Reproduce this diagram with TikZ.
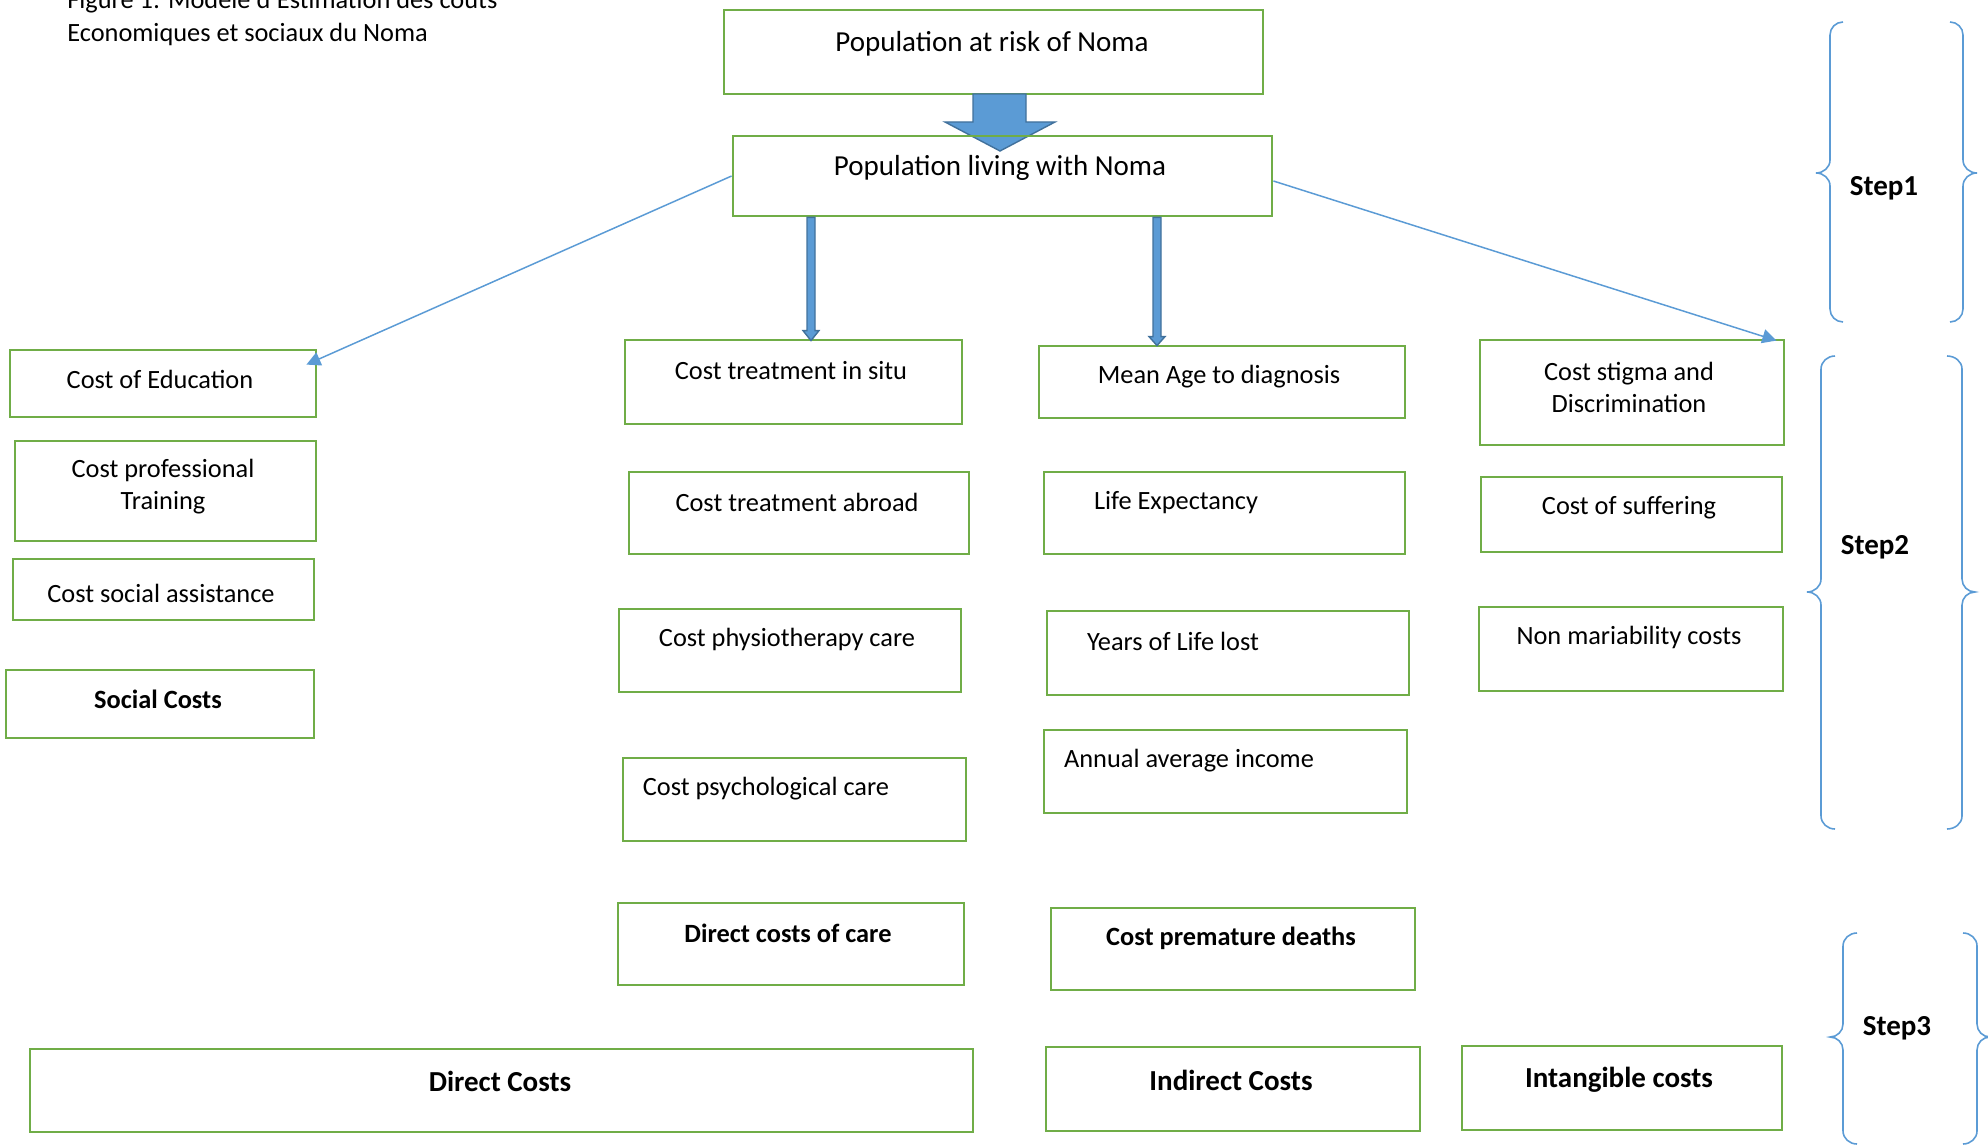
\documentclass[tikz,border=0pt]{standalone}
\usepackage{fontspec}
\setmainfont{Carlito}
\usetikzlibrary{arrows.meta,calc,fit}

\definecolor{boxgreen}{HTML}{70AD47}
\definecolor{arrowblue}{HTML}{5B9BD5}
\definecolor{arrowedge}{HTML}{41719C}

\tikzset{
  box/.style={draw=boxgreen, line width=1.6pt, inner sep=0pt},
  txt/.style={font=\fontsize{15}{18.5}\selectfont, align=center, inner sep=0pt, yshift=-1.5pt},
  bigtxt/.style={font=\fontsize{16.5}{20}\selectfont, align=center, inner sep=0pt, yshift=-1.5pt},
  thinarrow/.style={draw=arrowblue, line width=0.85pt, -{Triangle[width=8pt,length=8pt]}},
  blockarrow/.style={fill=arrowblue, draw=arrowedge, line width=0.8pt, line join=miter},
  stepbrace/.style={draw=arrowblue, line width=0.9pt}
}

\begin{document}
\begin{tikzpicture}[x=0.02cm, y=-0.02cm]

\useasboundingbox (0,0) rectangle (1988,1145);

% titre de la figure (coupe en haut)
\node[txt, anchor=base west] (cap1) at (67,6) {Figure 1: Modèle d'Estimation des coûts};
\node[txt, anchor=base west] (cap2) at (67,39) {Economiques et sociaux du Noma};

% population
\node[box, fit={(724,10) (1263,94)}] (risk) {};
\node[bigtxt] (risk-t) at (992,41) {Population at risk of Noma};

% grosse fleche vers la population malade
\filldraw[blockarrow] (973,94) -- (1026,94) -- (1026,122) -- (1055,122) -- (1000,151) -- (945,122) -- (973,122) -- cycle;

\node[box, fit={(733,136) (1272,216)}] (living) {};
\node[bigtxt] (living-t) at (1000,165) {Population living with Noma};

% couts sociaux
\node[box, fit={(10,350) (316,417)}] (edu) {};
\node[txt] (edu-t) at (160,377) {Cost of Education};
\node[box, fit={(15,441) (316,541)}] (train) {};
\node[txt] (train-t) at (163,484) {Cost professional\\Training};
\node[box, fit={(13,559) (314,620)}] (assist) {};
\node[txt] (assist-t) at (161,591) {Cost social assistance};
\node[box, fit={(6,670) (314,738)}] (social) {};
\node[txt, font=\fontsize{15}{18.5}\selectfont\bfseries] (social-t) at (158,697) {Social Costs};

% couts directs des soins
\node[box, fit={(625,340) (962,424)}] (situ) {};
\node[txt] (situ-t) at (791,368) {Cost treatment in situ};
\node[box, fit={(629,472) (969,554)}] (abroad) {};
\node[txt] (abroad-t) at (797,500) {Cost treatment abroad};
\node[box, fit={(619,609) (961,692)}] (physio) {};
\node[txt] (physio-t) at (787,637) {Cost physiotherapy care};
\node[box, fit={(623,758) (966,841)}] (psycho) {};
\node[txt] (psycho-t) at (766,786) {Cost psychological care};
\node[box, fit={(618,903) (964,985)}] (care) {};
\node[txt, font=\fontsize{15}{18.5}\selectfont\bfseries] (care-t) at (788,931) {Direct costs of care};

% deces prematures
\node[box, fit={(1039,346) (1405,418)}] (age) {};
\node[txt] (age-t) at (1219,374) {Mean Age to diagnosis};
\node[box, fit={(1044,472) (1405,554)}] (life) {};
\node[txt] (life-t) at (1176,500) {Life Expectancy};
\node[box, fit={(1047,611) (1409,695)}] (yll) {};
\node[txt] (yll-t) at (1173,639) {Years of Life lost};
\node[box, fit={(1044,730) (1407,813)}] (income) {};
\node[txt] (income-t) at (1189,758) {Annual average income};
\node[box, fit={(1051,908) (1415,990)}] (death) {};
\node[txt, font=\fontsize{15}{18.5}\selectfont\bfseries] (death-t) at (1231,936) {Cost premature deaths};

% couts intangibles
\node[box, fit={(1480,340) (1784,445)}] (stigma) {};
\node[txt] (stigma-t) at (1629,385) {Cost stigma and\\Discrimination};
\node[box, fit={(1481,477) (1782,552)}] (suffer) {};
\node[txt] (suffer-t) at (1629,505) {Cost of suffering};
\node[box, fit={(1479,607) (1783,691)}] (marry) {};
\node[txt] (marry-t) at (1629,635) {Non mariability costs};

% etape 3
\node[box, fit={(30,1049) (973,1132)}] (direct) {};
\node[bigtxt, font=\fontsize{16.5}{20}\selectfont\bfseries] (direct-t) at (500,1079) {Direct Costs};
\node[box, fit={(1046,1047) (1420,1131)}] (indirect) {};
\node[bigtxt, font=\fontsize{16.5}{20}\selectfont\bfseries] (indirect-t) at (1231,1078) {Indirect Costs};
\node[box, fit={(1462,1046) (1782,1130)}] (intang) {};
\node[bigtxt, font=\fontsize{16.5}{20}\selectfont\bfseries] (intang-t) at (1619,1077) {Intangible costs};

% fleches fines
\coordinate (edu-in) at ($(edu.north east)+(-11,16)$);
\coordinate (stigma-in) at ($(stigma.north east)+(-9,2)$);
\draw[thinarrow] (living.west) -- (edu-in);
\draw[thinarrow] ($(living.east)+(0,5)$) -- (stigma-in);

% fleches verticales
\coordinate (c1) at (811,0);
\coordinate (c2) at (1157,0);
\filldraw[blockarrow] ($(living.south -| c1)+(-4,0)$) -- ($(living.south -| c1)+(4,0)$)
  -- ($(situ.north -| c1)+(4,-8)$) -- ($(situ.north -| c1)+(8,-8)$) -- ($(situ.north -| c1)+(0,2)$)
  -- ($(situ.north -| c1)+(-8,-8)$) -- ($(situ.north -| c1)+(-4,-8)$) -- cycle;
\filldraw[blockarrow] ($(living.south -| c2)+(-4,0)$) -- ($(living.south -| c2)+(4,0)$)
  -- ($(age.north -| c2)+(4,-8)$) -- ($(age.north -| c2)+(8,-8)$) -- ($(age.north -| c2)+(0,1)$)
  -- ($(age.north -| c2)+(-8,-8)$) -- ($(age.north -| c2)+(-4,-8)$) -- cycle;

% accolades des etapes
\draw[stepbrace] (1843,22) to[out=180,in=90] (1830,35) -- (1830,160) to[out=-90,in=0] (1816,173)
  to[out=0,in=90] (1830,186) -- (1830,309) to[out=-90,in=180] (1843,322);
\draw[stepbrace] (1950,22) to[out=0,in=90] (1963,35) -- (1963,160) to[out=-90,in=180] (1977,173)
  to[out=180,in=90] (1963,186) -- (1963,309) to[out=-90,in=0] (1950,322);
\node[bigtxt, font=\fontsize{16.5}{20}\selectfont\bfseries] (step1) at (1884,186) {Step1};

\draw[stepbrace] (1835,356) to[out=180,in=90] (1821,369) -- (1821,579) to[out=-90,in=0] (1807,592)
  to[out=0,in=90] (1821,605) -- (1821,816) to[out=-90,in=180] (1835,829);
\draw[stepbrace] (1947,356) to[out=0,in=90] (1962,369) -- (1962,579) to[out=-90,in=180] (1975,592)
  to[out=180,in=90] (1962,605) -- (1962,816) to[out=-90,in=0] (1947,829);
\node[bigtxt, font=\fontsize{16.5}{20}\selectfont\bfseries] (step2) at (1875,545) {Step2};

\draw[stepbrace] (1857,933) to[out=180,in=90] (1843,946) -- (1843,1024) to[out=-90,in=0] (1830,1037)
  to[out=0,in=90] (1843,1050) -- (1843,1131) to[out=-90,in=180] (1857,1144);
\draw[stepbrace] (1963,933) to[out=0,in=90] (1977,946) -- (1977,1024) to[out=-90,in=180] (1990,1037)
  to[out=180,in=90] (1977,1050) -- (1977,1131) to[out=-90,in=0] (1963,1144);
\node[bigtxt, font=\fontsize{16.5}{20}\selectfont\bfseries] (step3) at (1897,1026) {Step3};

\end{tikzpicture}
\end{document}
